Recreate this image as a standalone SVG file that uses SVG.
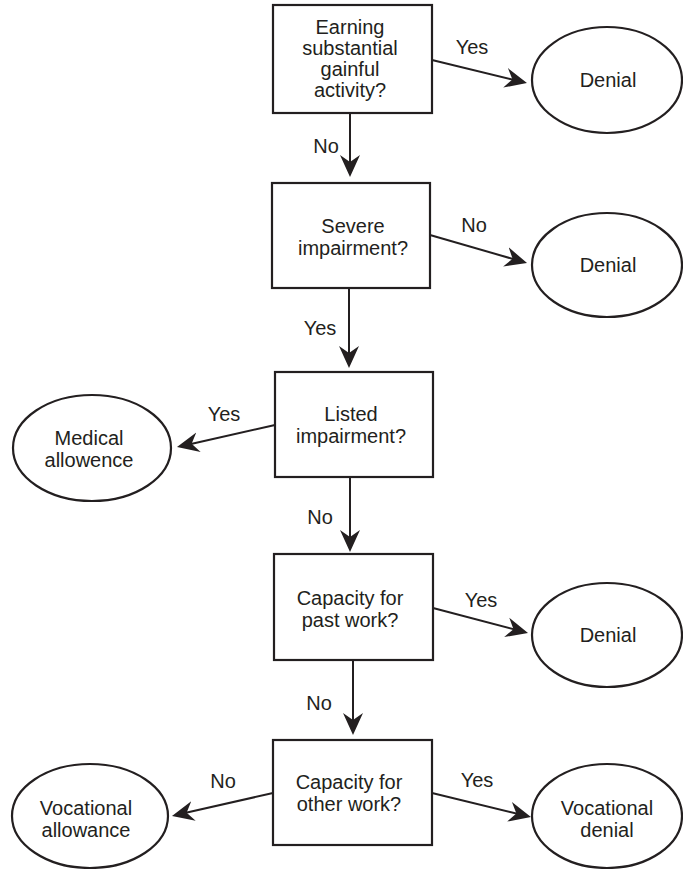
<svg xmlns="http://www.w3.org/2000/svg" width="683" height="869" viewBox="0 0 683 869">
<style>
.box{fill:#fff;stroke:#231f20;stroke-width:2.2}
.ell{fill:#fff;stroke:#231f20;stroke-width:2.2}
.t{font-family:"Liberation Sans",Arial,Helvetica,sans-serif;font-size:20px;fill:#231f20;text-anchor:middle}
.c{stroke:#231f20;stroke-width:2;fill:none;marker-end:url(#ah)}
</style>
<defs>
<marker id="ah" markerUnits="userSpaceOnUse" markerWidth="24" markerHeight="22" viewBox="0 0 24 22" refX="10" refY="11" orient="auto">
<path d="M22,11 L0,1 L7,11 L0,21 Z" fill="#231f20"/>
</marker>
</defs>
<rect width="683" height="869" fill="#fff"/>
<g id="connectors">
<line class="c" x1="432" y1="60" x2="515.3" y2="80.2"/>
<line class="c" x1="350" y1="114" x2="350" y2="165"/>
<line class="c" x1="430" y1="235" x2="515.5" y2="259.7"/>
<line class="c" x1="349" y1="289" x2="349" y2="356"/>
<line class="c" x1="275" y1="425" x2="188.7" y2="444.4"/>
<line class="c" x1="350" y1="478" x2="350" y2="540"/>
<line class="c" x1="433" y1="608" x2="516.4" y2="629.9"/>
<line class="c" x1="353" y1="661" x2="353" y2="723"/>
<line class="c" x1="273" y1="793" x2="183.7" y2="813.3"/>
<line class="c" x1="432" y1="793" x2="519.3" y2="814.2"/>
<text class="t" x="472" y="54">Yes</text>
<text class="t" x="326" y="153">No</text>
<text class="t" x="474" y="232">No</text>
<text class="t" x="320" y="335">Yes</text>
<text class="t" x="224" y="421">Yes</text>
<text class="t" x="320" y="524">No</text>
<text class="t" x="481" y="607">Yes</text>
<text class="t" x="319" y="710">No</text>
<text class="t" x="223" y="788">No</text>
<text class="t" x="477" y="787">Yes</text>
</g>
<g id="q1">
<rect class="box" x="273" y="5" width="159" height="108"/>
<text class="t" x="350" y="34">Earning</text>
<text class="t" x="350" y="55">substantial</text>
<text class="t" x="350" y="76">gainful</text>
<text class="t" x="350" y="97">activity?</text>
</g>
<g id="denial1">
<ellipse class="ell" cx="607" cy="80" rx="75" ry="53"/>
<text class="t" x="608" y="87">Denial</text>
</g>
<g id="q2">
<rect class="box" x="272" y="183" width="158" height="105"/>
<text class="t" x="353" y="233">Severe</text>
<text class="t" x="353" y="255">impairment?</text>
</g>
<g id="denial2">
<ellipse class="ell" cx="607" cy="265" rx="75" ry="52"/>
<text class="t" x="608" y="272">Denial</text>
</g>
<g id="q3">
<rect class="box" x="275" y="372" width="158" height="105"/>
<text class="t" x="351" y="421">Listed</text>
<text class="t" x="351" y="443">impairment?</text>
</g>
<g id="medical">
<ellipse class="ell" cx="92" cy="448" rx="79" ry="53"/>
<text class="t" x="89" y="445">Medical</text>
<text class="t" x="89" y="467">allowence</text>
</g>
<g id="q4">
<rect class="box" x="274" y="554" width="159" height="106"/>
<text class="t" x="350" y="605">Capacity for</text>
<text class="t" x="350" y="627">past work?</text>
</g>
<g id="denial3">
<ellipse class="ell" cx="607" cy="635" rx="75" ry="52"/>
<text class="t" x="608" y="642">Denial</text>
</g>
<g id="q5">
<rect class="box" x="273" y="740" width="159" height="105"/>
<text class="t" x="349" y="789">Capacity for</text>
<text class="t" x="349" y="811">other work?</text>
</g>
<g id="vocAllow">
<ellipse class="ell" cx="90" cy="816" rx="78" ry="52"/>
<text class="t" x="86" y="815">Vocational</text>
<text class="t" x="86" y="837">allowance</text>
</g>
<g id="vocDenial">
<ellipse class="ell" cx="607" cy="816" rx="75" ry="52"/>
<text class="t" x="607" y="815">Vocational</text>
<text class="t" x="607" y="837">denial</text>
</g>
</svg>
